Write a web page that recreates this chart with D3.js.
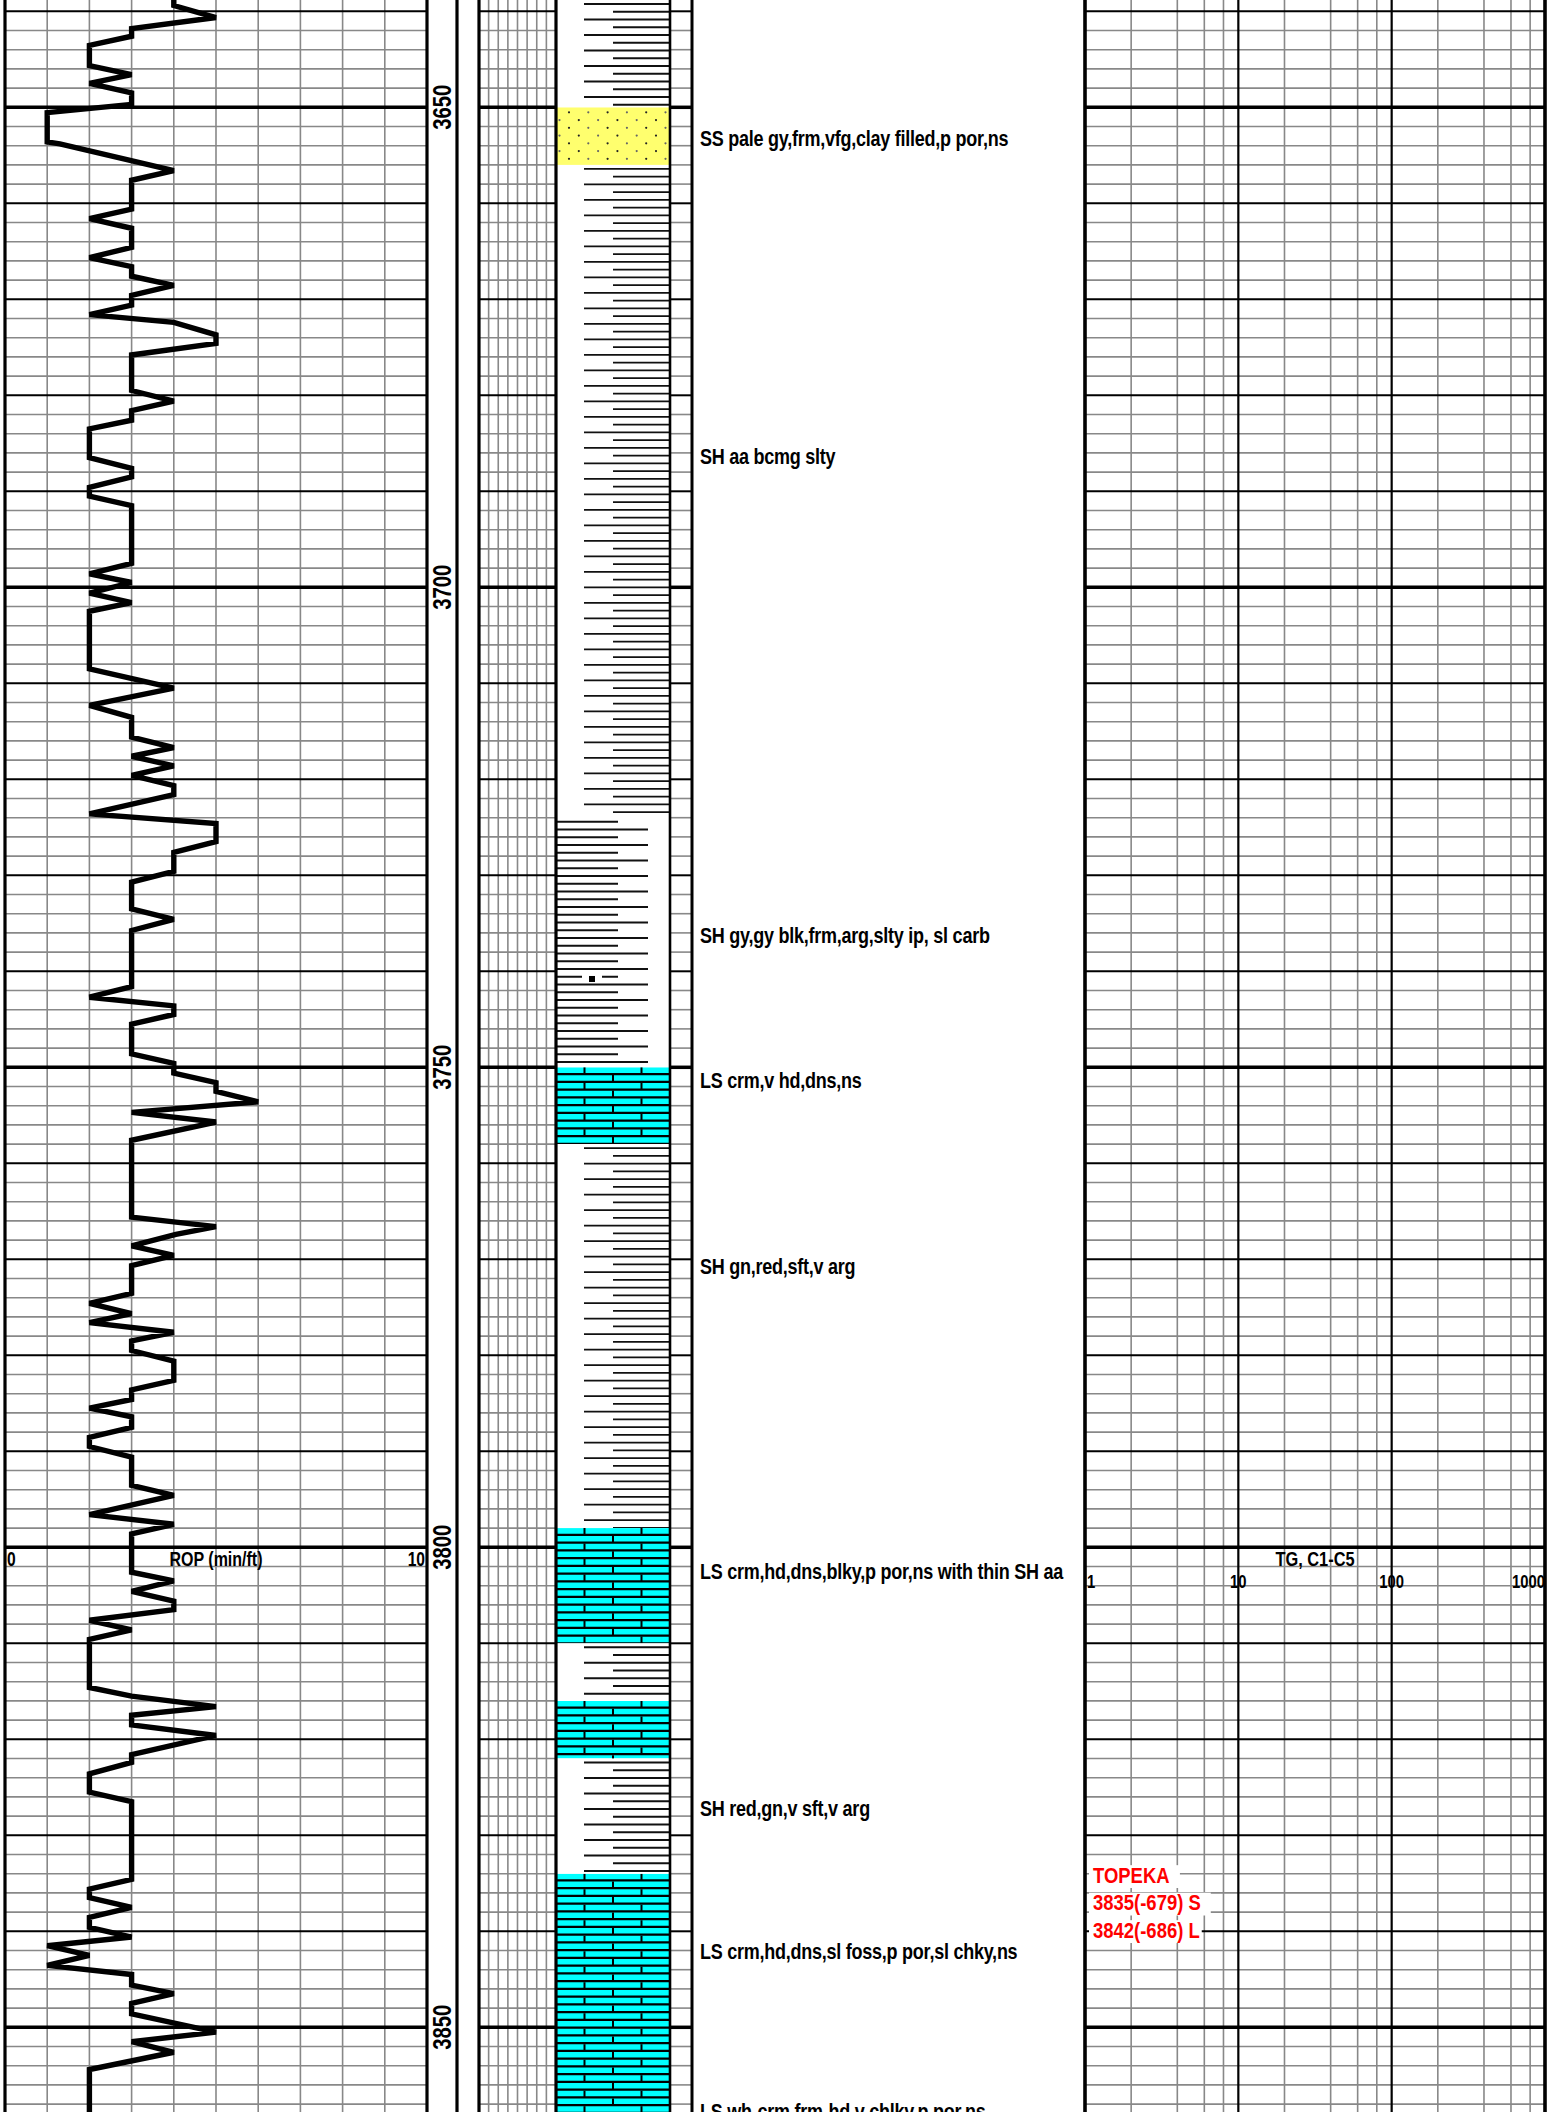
<!DOCTYPE html>
<html>
<head>
<meta charset="utf-8">
<title>mud log 3640-3858</title>
<style>
  body {margin:0;background:#fff;}
  svg {display:block;}
  .nar {font-family:"Liberation Sans",Arial,sans-serif;font-weight:bold;}
</style>
</head>
<body>
<svg id="log" width="1551" height="2112"></svg>
<script src="https://cdn.jsdelivr.net/npm/d3@7"></script>
<script>
// ROP curve, depth (ft) / min per ft
var ropDepth = [3638.8,3639.4,3640.65,3641.8,3642.6,3643.55,3645.65,3646.6,3647.5,3648.5,3649.7,3650.55,3653.6,3653.8,3656.6,3657.6,3660.6,3661.6,3662.6,3664.6,
  3665.65,3666.6,3667.6,3668.55,3669.6,3670.6,3671.6,3672.4,3673.7,3674.6,3675.8,3679.5,3680.6,3681.6,3682.6,3683.5,3686.5,3687.6,3688.5,3689.6,
  3690.5,3691.5,3697.5,3698.6,3699.5,3700.6,3701.6,3702.5,3708.5,3710.5,3712.3,3713.55,3715.6,3716.7,3717.6,3718.6,3719.6,3720.65,3721.6,3723.6,
  3724.6,3726.5,3727.6,3729.6,3730.7,3733.5,3734.6,3735.75,3741.6,3742.7,3743.6,3744.5,3745.5,3748.6,3749.6,3750.6,3751.6,3752.5,3753.6,3754.7,
  3755.7,3757.6,3765.6,3766.6,3767.4,3768.6,3769.6,3770.65,3773.55,3774.6,3775.65,3776.6,3777.6,3778.5,3779.5,3780.6,3782.6,3783.6,3784.6,3785.5,
  3786.4,3787.5,3788.55,3789.5,3790.6,3793.55,3794.6,3796.6,3797.6,3798.6,3802.6,3803.5,3804.6,3805.6,3806.5,3807.6,3808.6,3809.6,3814.6,3815.5,
  3816.6,3817.5,3818.5,3819.6,3821.6,3822.4,3823.6,3825.5,3826.5,3834.6,3835.6,3836.5,3837.5,3838.55,3839.6,3840.6,3841.5,3842.5,3843.55,3844.5,
  3845.6,3846.5,3847.5,3848.6,3850.5,3851.5,3852.6,3854.4,3859];
var ropValue = [4,4,5,3,3,2,2,3,2,3,3,1,1,1.3,4,3,3,2,3,3,
  2,3,3,4,3,3,2,4,5,5,3,3,4,3,3,2,2,3,3,2,
  2,3,3,2,3,2,3,2,2,4,2,3,3,4,3,4,3,4,4,2,
  5,5,4,4,3,3,4,3,3,2,4,4,3,3,4,4,5,5,6,3,
  5,3,3,5,4.05,3,4,3,3,2,3,2,4,3,3,4,4,3,3,2,
  3,3,2,2,3,3,4,2,4,3,3,4,3,4,4,2,3,2,2,3,
  5,3,3,5,3,3,2,2,3,3,2,2,3,2,2,3,1,2,1,3,
  3,4,3,3,5,3,4,2,2];

// lithology column
var lithTop  = [3638.8,3650,3656,3724,3750,3758,3798,3810,3816,3822,3834];
var lithBase = [3650,3656,3724,3750,3758,3798,3810,3816,3822,3834,3859];
var lithType = ["SH","SS","SH","SHD","LS","SH","LS","SH","LS","SH","LS"];
var carbDepth = [3740.8];

// sample descriptions
var descDepth = [3653.2,3686.3,3736.2,3751.3,3770.7,3802.5,3827.2,3842.1,3858.7];
var descText = ["SS pale gy,frm,vfg,clay filled,p por,ns","SH aa bcmg slty","SH gy,gy blk,frm,arg,slty ip, sl carb",
  "LS crm,v hd,dns,ns","SH gn,red,sft,v arg","LS crm,hd,dns,blky,p por,ns with thin SH aa","SH red,gn,v sft,v arg",
  "LS crm,hd,dns,sl foss,p por,sl chky,ns","LS wh-crm,frm-hd,v chlky,p por,ns"];

// formation top
var topsLines = ["TOPEKA","3835(-679) S","3842(-686) L"];
var topsDepth = 3834.1;

var depthLabels = [3650,3700,3750,3800,3850];
var tgTicks = [1,10,100,1000];

var svg = d3.select("#log");
var y = d3.scaleLinear().domain([3650,3800]).range([107.3,1547.3]);
var xRop = d3.scaleLinear().domain([0,10]).range([5,427]);
var xTg = d3.scaleLog().domain([1,1000]).range([1085,1545]);

// narrow bold text: squeeze a normal face horizontally
function ntext(sel, x, yy, size, anchor, str, rot, sx) {
  return sel.append("text").attr("class","nar")
    .attr("transform","translate("+x+","+yy+")"+(rot?" rotate(-90)":"")+" scale("+(sx||0.78)+",1)")
    .attr("font-size",size).attr("text-anchor",anchor||"start").text(str);
}

// tracks that carry the horizontal depth grid
var gridTracks = [[5,427],[479,556],[670,692],[1085,1545]];
var hLines = d3.range(3640,3860,2);

var g = svg.append("g");
// minor verticals
var vMinor = [];
d3.range(1,10).forEach(function(v){vMinor.push(xRop(v));});
d3.range(1,8).forEach(function(i){vMinor.push(479+i*(556-479)/8);});
[1,10,100].forEach(function(dec){[2,4,6,8].forEach(function(m){vMinor.push(xTg(dec*m));});});
g.selectAll(".vm").data(vMinor).enter().append("line")
  .attr("x1",function(d){return d;}).attr("x2",function(d){return d;})
  .attr("y1",0).attr("y2",2112).attr("stroke","#888").attr("stroke-width",1.6);

gridTracks.forEach(function(t){
  g.append("g").selectAll("line").data(hLines).enter().append("line")
    .attr("x1",t[0]).attr("x2",t[1])
    .attr("y1",function(d){return y(d);}).attr("y2",function(d){return y(d);})
    .attr("stroke",function(d){return d%10==0?"#000":"#888";})
    .attr("stroke-width",function(d){return d%50==0?3.5:(d%10==0?2:1.6);});
});
// decade lines of the gas track
g.selectAll(".dec").data([10,100]).enter().append("line")
  .attr("x1",function(d){return xTg(d);}).attr("x2",function(d){return xTg(d);})
  .attr("y1",0).attr("y2",2112).attr("stroke","#000").attr("stroke-width",2.2);

// lithology
var lx0 = 556, lx1 = 670, lw = lx1-lx0, pitch = 7.75;
var lith = g.append("g");
lithType.forEach(function(t,i){
  var y0 = Math.max(0,y(lithTop[i])), y1 = Math.min(2112,y(lithBase[i]));
  var id = "clip"+i;
  svg.append("clipPath").attr("id",id).append("rect").attr("x",lx0).attr("y",y0).attr("width",lw).attr("height",y1-y0);
  var b = lith.append("g").attr("clip-path","url(#"+id+")");
  b.append("rect").attr("x",lx0).attr("y",y0).attr("width",lw).attr("height",y1-y0)
    .attr("fill",t=="LS"?"#00ffff":(t=="SS"?"#ffff6e":"#fff"));
  var rows = d3.range(y0 + (t=="LS"?0:4), y1, pitch);
  if (t=="SH" || t=="SHD") {
    b.selectAll("line").data(rows).enter().append("line")
      .attr("y1",function(d){return d;}).attr("y2",function(d){return d;})
      .attr("x1",function(d,k){ return t=="SH" ? (k%2==0?584:613) : lx0; })
      .attr("x2",function(d,k){ return t=="SH" ? lx1 : (k%2==0?618:648); })
      .attr("stroke","#111").attr("stroke-width",1.9);
  } else if (t=="LS") {
    rows.forEach(function(r,k){
      b.append("line").attr("x1",lx0).attr("x2",lx1).attr("y1",r+pitch-1).attr("y2",r+pitch-1)
        .attr("stroke","#000").attr("stroke-width",2.2);
      var joints = k%2==0 ? [0.25,0.75] : [0.5];
      joints.forEach(function(f){
        b.append("line").attr("x1",lx0+f*lw).attr("x2",lx0+f*lw).attr("y1",r).attr("y2",r+pitch-1)
          .attr("stroke","#000").attr("stroke-width",2);
      });
    });
  } else if (t=="SS") {
    rows.forEach(function(r,k){
      d3.range(lx0 + (k%2==0?13:3.5), lx1, 19.3).forEach(function(cx,j){
        b.append("circle").attr("cx",cx).attr("cy",r+1).attr("r",1.1)
          .attr("fill",(j+k)%2==0?"#222":"#666");
      });
    });
  }
});
carbDepth.forEach(function(d){
  lith.append("rect").attr("x",lx0+26).attr("y",y(d)-4).attr("width",20).attr("height",8).attr("fill","#fff");
  lith.append("rect").attr("x",lx0+33).attr("y",y(d)-3).attr("width",6).attr("height",6).attr("fill","#000");
});

// track borders
var borders = [[5,3.2],[427,3.2],[457,3.2],[479,3.2],[556,3.2],[670,2.6],[692,3],[1085,3.6],[1545,3.6]];
g.selectAll(".bd").data(borders).enter().append("line")
  .attr("x1",function(d){return d[0];}).attr("x2",function(d){return d[0];})
  .attr("y1",0).attr("y2",2112).attr("stroke","#000").attr("stroke-width",function(d){return d[1];});

// ROP curve
var rop = ropDepth.map(function(d,i){return {d:d,v:ropValue[i]};});
svg.append("path").datum(rop)
  .attr("d",d3.line().x(function(p){return xRop(p.v);}).y(function(p){return y(p.d);}))
  .attr("fill","none").attr("stroke","#000").attr("stroke-width",5.4)
  .attr("stroke-linejoin","miter").attr("stroke-miterlimit",2.2);

// depth numbers
depthLabels.forEach(function(d){ ntext(svg, 451, y(d), 26, "middle", d, true); });

// track headers
var hy = y(3800)+19;
ntext(svg, 7, hy, 20, "start", "0");
ntext(svg, xRop(5), hy, 20, "middle", "ROP (min/ft)", false, 0.8);
ntext(svg, 425, hy, 20, "end", "10");
ntext(svg, (1085+1545)/2, hy, 20, "middle", "TG, C1-C5", false, 0.82);
tgTicks.forEach(function(d,i){
  ntext(svg, i==0?1087:(i==3?1545:xTg(d)), hy+22, 19, i==0?"start":(i==3?"end":"middle"), d);
});

// descriptions
descText.forEach(function(s,i){
  ntext(svg, 700, y(descDepth[i])+8, 22.5, "start", s, false, 0.8).attr("letter-spacing",-0.3);
});

// formation top
var tg = svg.append("g");
topsLines.forEach(function(s,i){
  var t = tg.append("text").attr("class","nar")
    .attr("transform","translate(1093,"+(y(topsDepth)+8+i*27.5)+") scale(0.84,1)")
    .attr("font-size",22).attr("fill","#ff0000").text(s);
  var bb = t.node().getBBox();
  tg.insert("rect","text").attr("x",1089).attr("y",y(topsDepth)+8+i*27.5+bb.y+2)
    .attr("width",bb.width*0.84+(i<2?14:6)).attr("height",bb.height-1).attr("fill","#fff");
});
</script>
</body>
</html>
